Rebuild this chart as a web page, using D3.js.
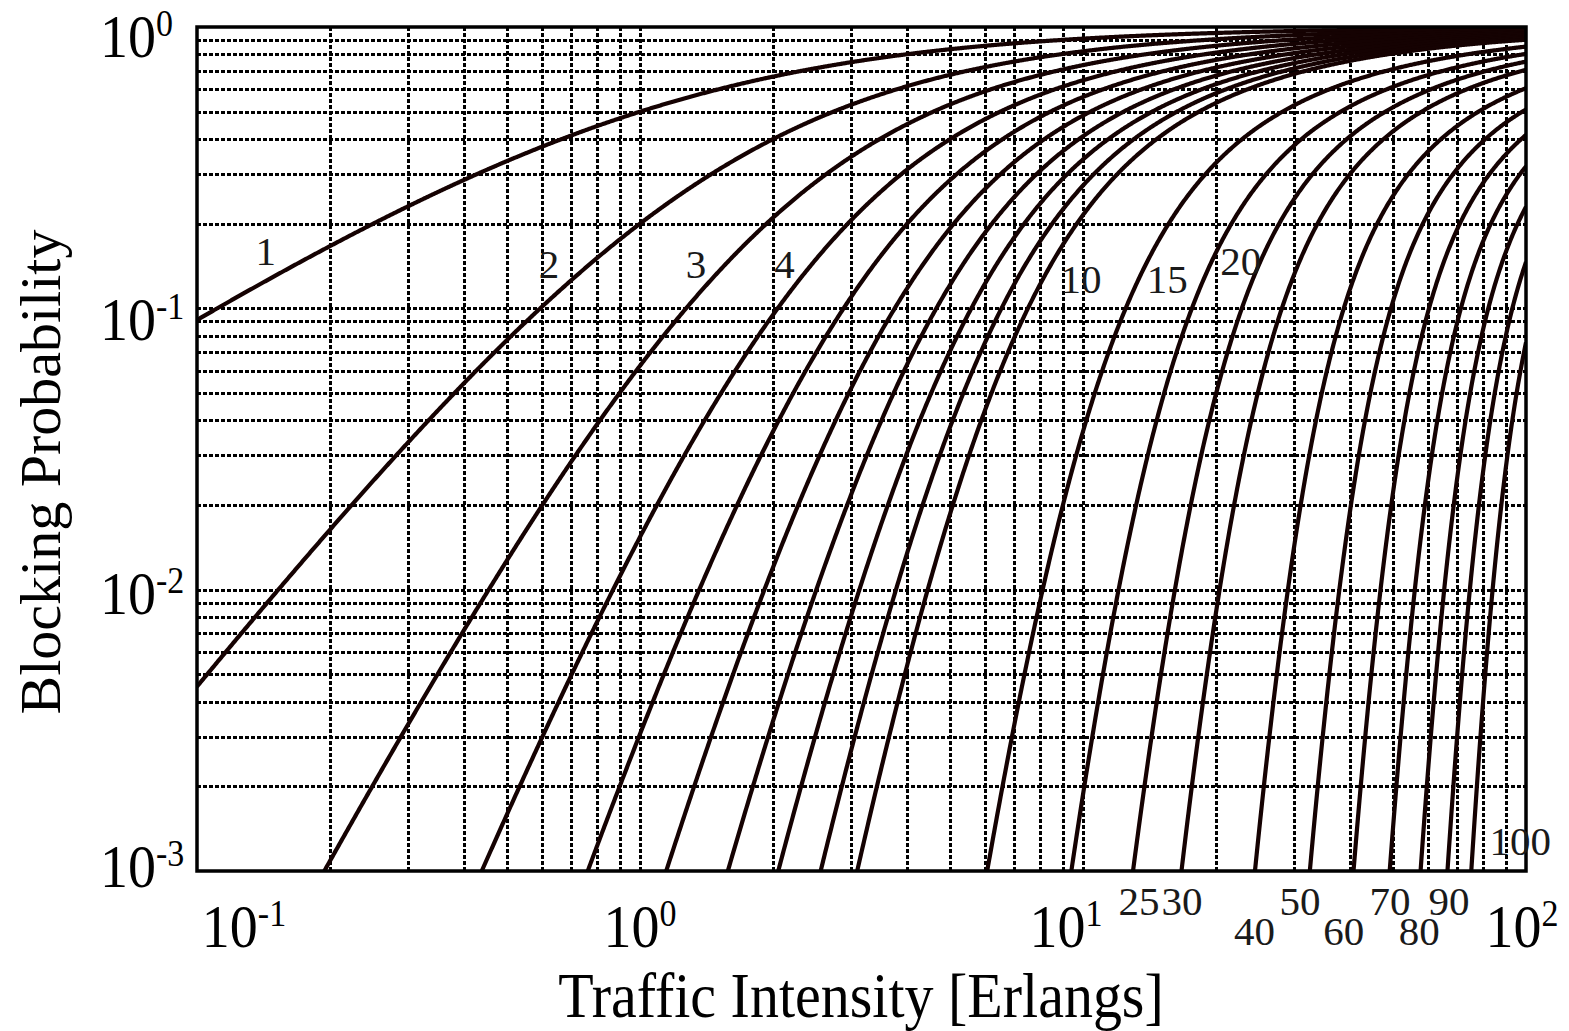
<!DOCTYPE html>
<html>
<head>
<meta charset="utf-8">
<script src="https://cdn.jsdelivr.net/npm/d3@7"></script>
<style>
  body { margin: 0; background: #fff; }
  text { font-family: "Liberation Serif", "Times New Roman", serif; fill: #000; }
</style>
</head>
<body>
<svg id="chart" width="1569" height="1031"></svg>
<script>
// number of channels, one Erlang B curve each
var channels = [1, 2, 3, 4, 5, 6, 7, 8, 9, 10, 15, 20, 25, 30, 40, 50, 60, 70, 80, 90, 100];

// decade ticks
var xDecades = [0.1, 1, 10, 100];
var yDecades = [1, 0.1, 0.01, 0.001];
var xTickExp = ['-1', '0', '1', '2'];
var yTickExp = ['0', '-1', '-2', '-3'];

// curve labels, placed in data space [traffic, blocking]
var labelText = ['1', '2', '3', '4', '10', '15', '20', '100',
                 '25', '30', '40', '50', '60', '70', '80', '90'];
var labelA = [0.143, 0.623, 1.338, 2.12, 9.9, 15.5, 22.7, 97,
              13.38, 16.73, 24.4, 30.9, 38.8, 49.3, 57.4, 67];
var labelB = [0.1426, 0.128, 0.128, 0.128, 0.1133, 0.1133, 0.1313, 0.00114,
              6.97e-4, 6.97e-4, 5.45e-4, 6.97e-4, 5.45e-4, 6.97e-4, 5.45e-4, 6.97e-4];

var margin = {left: 197, top: 27, right: 1526, bottom: 871};

var svg = d3.select('#chart');

var x = d3.scaleLog().domain([0.1, 100]).range([margin.left, margin.right]);
var y = d3.scaleLog().domain([0.001, 1]).range([margin.bottom, margin.top]);

// Erlang B by the usual recursion
function erlangB(n, a) {
    var b = 1;
    for (var k = 1; k <= n; k++) {
        b = a * b / (k + a * b);
    }
    return b;
}

svg.append('clipPath').attr('id', 'plotClip')
    .append('rect')
    .attr('x', margin.left).attr('y', margin.top)
    .attr('width', margin.right - margin.left)
    .attr('height', margin.bottom - margin.top);

// grid: every 1..9 step inside each decade
var xGrid = [];
[0.1, 1, 10].forEach(function(d) {
    for (var m = 1; m <= 9; m++) xGrid.push(d * m);
});
xGrid = xGrid.filter(function(v) { return v > 0.1 + 1e-9; });
var yGrid = [];
[0.001, 0.01, 0.1].forEach(function(d) {
    for (var m = 1; m <= 9; m++) yGrid.push(d * m);
});
yGrid = yGrid.filter(function(v) { return v > 0.001 + 1e-12; });

var grid = svg.append('g').attr('id', 'grid')
    .attr('stroke', '#000')
    .attr('stroke-width', 3)
    .attr('stroke-dasharray', '4,2')
    .attr('shape-rendering', 'crispEdges');

grid.selectAll('line.h').data(yGrid).enter().append('line')
    .attr('class', 'h')
    .attr('x1', margin.left).attr('x2', margin.right)
    .attr('y1', function(d) { return Math.round(y(d)) + 0.5; })
    .attr('y2', function(d) { return Math.round(y(d)) + 0.5; });

grid.selectAll('line.v').data(xGrid).enter().append('line')
    .attr('class', 'v')
    .attr('y1', margin.top).attr('y2', margin.bottom)
    .attr('x1', function(d) { return Math.round(x(d)) + 0.5; })
    .attr('x2', function(d) { return Math.round(x(d)) + 0.5; });

// curves
var samples = d3.range(0, 1501).map(function(i) { return Math.pow(10, -1 + i * 3 / 1500); });

var line = d3.line()
    .defined(function(d) { return d.b > 1e-4; })
    .x(function(d) { return x(d.a); })
    .y(function(d) { return y(d.b); });

svg.append('g').attr('id', 'curves')
    .attr('clip-path', 'url(#plotClip)')
    .selectAll('path').data(channels).enter().append('path')
    .attr('fill', 'none')
    .attr('stroke', '#150202')
    .attr('stroke-width', 4.2)
    .attr('stroke-linejoin', 'round')
    .attr('d', function(n) {
        return line(samples.map(function(a) { return {a: a, b: erlangB(n, a)}; }));
    });

// frame
svg.append('rect')
    .attr('x', margin.left).attr('y', margin.top)
    .attr('width', margin.right - margin.left)
    .attr('height', margin.bottom - margin.top)
    .attr('fill', 'none')
    .attr('stroke', '#000')
    .attr('stroke-width', 3.5);

// x tick labels (the source text is a little stretched vertically)
var xShift = [47, 0, -17, -4];
xDecades.forEach(function(v, i) {
    var t = svg.append('text')
        .attr('transform', 'translate(' + (x(v) + xShift[i]) + ',947) scale(1,1.1)')
        .attr('text-anchor', 'middle')
        .style('font-size', '56px');
    t.append('tspan').text('10');
    t.append('tspan').attr('dy', -19).style('font-size', '34px').text(xTickExp[i]);
});

// y tick labels
var yShift = [30, 32, 24, 16];
yDecades.forEach(function(v, i) {
    var t = svg.append('text')
        .attr('transform', 'translate(100,' + (y(v) + yShift[i]) + ') scale(1,1.1)')
        .style('font-size', '56px');
    t.append('tspan').text('10');
    t.append('tspan').attr('dy', -19).style('font-size', '34px').text(yTickExp[i]);
});

// curve labels
svg.append('g').attr('id', 'labels')
    .selectAll('text').data(labelText).enter().append('text')
    .attr('x', function(d, i) { return x(labelA[i]); })
    .attr('y', function(d, i) { return y(labelB[i]); })
    .attr('text-anchor', 'middle')
    .style('font-size', '41px')
    .style('fill', '#1a1a1a')
    .text(function(d) { return d; });

// axis titles
svg.append('text')
    .attr('transform', 'translate(861,1017) scale(1,1.1)')
    .attr('text-anchor', 'middle')
    .style('font-size', '58px')
    .text('Traffic Intensity [Erlangs]');

svg.append('text')
    .attr('transform', 'translate(60,472) rotate(-90)')
    .attr('text-anchor', 'middle')
    .style('font-size', '58px')
    .text('Blocking Probability');
</script>
</body>
</html>
